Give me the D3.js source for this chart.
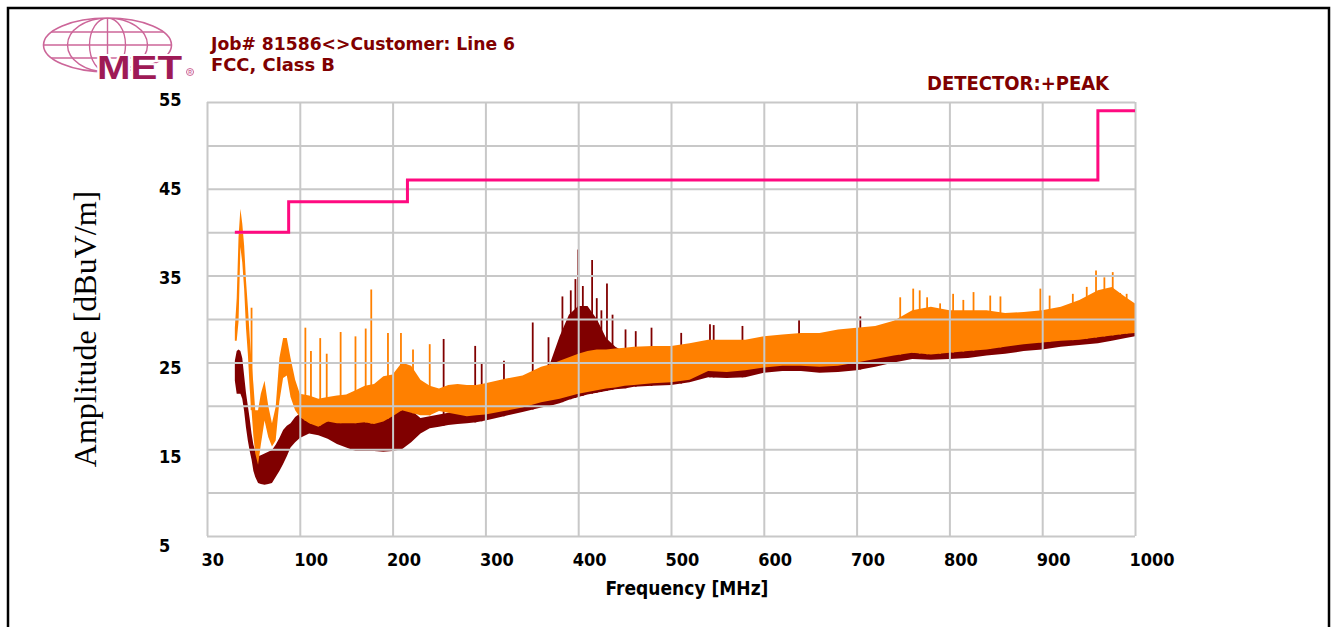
<!DOCTYPE html>
<html>
<head>
<meta charset="utf-8">
<script src="https://cdn.jsdelivr.net/npm/d3@7"></script>
<style>
  body { margin: 0; background: #fff; }
  .lab { font-family: 'DejaVu Sans Condensed', 'DejaVu Sans', sans-serif; font-stretch: condensed; font-weight: bold; }
</style>
</head>
<body>
<div id="chart"></div>
<script>
// frequency breakpoints [MHz] of the envelope
const freqs = [30, 32, 34, 36, 38, 40, 42, 44, 46, 48,
  50, 52, 55, 58, 62, 66, 70, 74, 78, 82,
  86, 90, 95, 100, 110, 120, 130, 140, 150, 160,
  170, 180, 190, 200, 210, 220, 230, 240, 250, 260,
  270, 280, 290, 300, 320, 340, 360, 370, 380, 390,
  400, 410, 420, 430, 440, 450, 460, 480, 500, 520,
  540, 560, 580, 600, 620, 640, 660, 680, 700, 720,
  740, 760, 780, 800, 820, 840, 860, 880, 900, 920,
  940, 960, 975, 990, 1000];

// orange trace (horizontal) top / bottom of the band [dBuV/m]
const hHi = [29, 32.4, 39.5, 42.7, 41, 38.5, 34.5, 31.5, 28, 25,
  22.5, 19.5, 19.5, 21.4, 22.9, 20, 18, 19.9, 25.5, 27.8,
  27.8, 25.5, 23, 21.4, 21.2, 20.8, 21, 21.2, 21.3, 21.8,
  22.3, 22.5, 23.4, 23.6, 25, 24.6, 23, 22.3, 22, 22.4,
  22.5, 22.4, 22.4, 22.6, 23.1, 23.5, 24.5, 24.8, 25.2, 25.6,
  26, 26.3, 26.5, 26.5, 26.6, 26.7, 26.8, 26.9, 26.9, 27.2,
  27.6, 27.6, 27.6, 28, 28.2, 28.4, 28.4, 28.8, 29, 29.2,
  29.8, 31, 31.4, 31, 31, 31, 30.7, 30.8, 31, 31.4,
  32.2, 33.3, 33.7, 32.5, 31.8];
const hLo = [27.5, 27.5, 29.7, 38.3, 36.5, 33.5, 29, 26, 22, 19.5,
  16.5, 14.5, 13.2, 15.5, 18.3, 16.4, 15.3, 16, 20.5, 23.2,
  23.5, 21, 19.5, 18.7, 18, 17.6, 18.2, 18, 18, 18,
  18.1, 17.9, 18.2, 18.8, 19.5, 19.2, 18.9, 18.9, 19.4, 19.2,
  19, 18.8, 18.9, 19, 19.4, 19.8, 20.4, 20.6, 20.8, 21.1,
  21.4, 21.6, 21.8, 22, 22.1, 22.3, 22.4, 22.6, 22.7, 23,
  24, 23.9, 24.1, 24.4, 24.6, 24.6, 24.5, 24.6, 25, 25.4,
  25.8, 26.1, 25.9, 26.1, 26.3, 26.5, 26.8, 27.1, 27.3, 27.5,
  27.6, 27.9, 28.1, 28.3, 28.4];

// dark red trace (vertical) top / bottom of the band
const vHi = [25.2, 26.3, 26.5, 26.3, 25.5, 23.5, 21.5, 20, 18.5, 16.8,
  15.5, 14.8, 14.2, 14.3, 14.5, 14.7, 14.9, 15.5, 16.3, 17.2,
  17.7, 18, 18.7, 19.1, 19.1, 19, 18.8, 18.6, 18.5, 18.6,
  18.8, 18.4, 18.9, 19.4, 20.5, 19.5, 18.6, 18.8, 19, 19.2,
  19.4, 19.6, 19.8, 20, 20.5, 21, 22, 25, 28, 30.5,
  31.5, 31.5, 30, 27.8, 26.8, 26.2, 25.6, 25.4, 25.5, 25.8,
  26.2, 26.2, 26.4, 26.5, 26.8, 27, 27, 27.2, 27.5, 27.6,
  28, 28.2, 28.3, 28.4, 28.6, 28.8, 29, 29.1, 29.3, 29.5,
  29.6, 29.8, 30, 30.2, 30.3];
const vLo = [22.9, 21.4, 21.4, 21.4, 20.8, 19.4, 17.5, 16, 14.8, 13.8,
  12.5, 11.8, 11.1, 11, 10.9, 11, 11.1, 11.8, 12.5, 13.3,
  14.2, 15.2, 15.8, 16.3, 16.8, 16.6, 16.2, 15.6, 15.2, 14.8,
  14.8, 14.8, 14.7, 14.8, 15, 15.8, 16.8, 17.4, 17.6, 17.8,
  17.9, 18, 18.1, 18.3, 18.8, 19.3, 19.8, 20, 20.3, 20.7,
  21, 21.3, 21.5, 21.7, 21.9, 22, 22.2, 22.3, 22.4, 22.7,
  23.3, 23.2, 23.3, 23.8, 24, 24, 23.8, 23.9, 24.1, 24.5,
  25, 25.4, 25.3, 25.4, 25.5, 25.8, 26, 26.3, 26.5, 26.8,
  27, 27.2, 27.5, 27.8, 28];

// single spikes [freq, peak]
const hSpikes = [[48, 31.3], [106, 29], [112, 26.3], [122, 27.8], [129, 26], [144, 28.5],
  [160, 28], [171, 28.9], [177, 33.4], [195, 28.4], [209, 28.4], [222, 26.5], [240, 27.1],
  [747, 32.5], [761, 33.5], [768, 33.3], [776, 32.5], [790, 31.8], [804, 32.9], [815, 32.2],
  [826, 33.1], [844, 32.7], [855, 32.6], [898, 33.5], [908, 32.7], [933, 32.9], [948, 33.7],
  [958, 35.6], [967, 34.8], [976, 35.4], [984, 33], [991, 32.9]];
const vSpikes = [[255, 27.7], [289, 26.9], [296, 25], [320, 25.2], [351, 29.6], [368, 27.9],
  [383, 32.6], [392, 33.3], [397, 34.6], [400, 38], [405, 33.8], [415, 36.8], [420, 32.4],
  [425, 31], [431, 34.1], [437, 30.5], [451, 28.8], [462, 28.6], [479, 29],
  [511, 28.4], [542, 29.4], [546, 29.3], [577, 29.2], [638, 29.9], [704, 30.3]];

// FCC class B limit steps
const limitFreq = [30, 88, 216, 960, 1000];
const limitLevel = [40, 43.5, 46, 54, 54];

const xTicks = [0, 100, 200, 300, 400, 500, 600, 700, 800, 900, 1000];
const xTickLabels = ["30", "100", "200", "300", "400", "500", "600", "700", "800", "900", "1000"];
const yGrid = [5, 10, 15, 20, 25, 30, 35, 40, 45, 50, 55];
const yTicks = [5, 15, 25, 35, 45, 55];

const W = 1333, H = 627;
const plotL = 207, plotR = 1135, plotT = 102, plotB = 536;

const svg = d3.select("#chart").append("svg")
  .attr("width", W).attr("height", H)
  .style("display", "block");

svg.append("rect").attr("width", W).attr("height", H).attr("fill", "#fff");
svg.append("rect")
  .attr("x", 8).attr("y", 8).attr("width", 1321).attr("height", 660)
  .attr("fill", "none").attr("stroke", "#000").attr("stroke-width", 2.5);

const x = d3.scaleLinear().domain([0, 1000]).range([plotL, plotR]);
const y = d3.scaleLinear().domain([5, 55]).range([plotB, plotT]);
// the tick labels sit on a slightly wider spacing than the grid
const yLab = d3.scaleLinear().domain([5, 55]).range([545, 99]);

// traces
const area = d3.area()
  .x(d => x(d.f))
  .y0(d => y(d.lo))
  .y1(d => y(d.hi));

const vRows = freqs.map((f, i) => ({f: f, lo: vLo[i], hi: vHi[i]}));
const hRows = freqs.map((f, i) => ({f: f, lo: hLo[i], hi: hHi[i]}));
const vBase = d3.scaleLinear().domain(freqs).range(vLo);
const hBase = d3.scaleLinear().domain(freqs).range(hLo);

svg.append("path").datum(vRows).attr("d", area).attr("fill", "#800000");
svg.append("g").selectAll("line").data(vSpikes).join("line")
  .attr("x1", d => x(d[0])).attr("x2", d => x(d[0]))
  .attr("y1", d => y(d[1])).attr("y2", d => y(vBase(d[0])))
  .attr("stroke", "#800000").attr("stroke-width", 1.8);

svg.append("path").datum(hRows).attr("d", area).attr("fill", "#ff8000");
svg.append("g").selectAll("line").data(hSpikes).join("line")
  .attr("x1", d => x(d[0])).attr("x2", d => x(d[0]))
  .attr("y1", d => y(d[1])).attr("y2", d => y(hBase(d[0])))
  .attr("stroke", "#ff8000").attr("stroke-width", 1.8);

// grid on top of the traces
const grid = svg.append("g");
grid.append("g")
  .attr("transform", `translate(0,${plotB})`)
  .call(d3.axisBottom(x).tickValues(xTicks).tickSize(-(plotB - plotT)).tickFormat(""))
  .call(g => g.select(".domain").remove());
grid.append("g")
  .attr("transform", `translate(${plotL},0)`)
  .call(d3.axisLeft(y).tickValues(yGrid).tickSize(-(plotR - plotL)).tickFormat(""))
  .call(g => g.select(".domain").remove());
grid.selectAll("line").attr("stroke", "#c8c8c8").attr("stroke-width", 2);

// limit line
const limitLine = d3.line().x(d => x(d[0])).y(d => y(d[1])).curve(d3.curveStepAfter);
svg.append("path")
  .datum(limitFreq.map((f, i) => [f, limitLevel[i]]))
  .attr("d", limitLine)
  .attr("fill", "none").attr("stroke", "#ff0a80").attr("stroke-width", 3);

// tick labels
const xAxis = svg.append("g")
  .attr("transform", `translate(0,${plotB})`)
  .call(d3.axisBottom(x).tickValues(xTicks).tickSize(0).tickFormat((d, i) => xTickLabels[i]));
xAxis.select(".domain").remove();
xAxis.selectAll("text")
  .attr("class", "lab")
  .attr("y", 30).attr("dy", 0).attr("dx", -6)
  .attr("text-anchor", "start")
  .attr("font-size", 18).attr("fill", "#000");

const yAxis = svg.append("g")
  .attr("transform", "translate(159,0)")
  .call(d3.axisLeft(yLab).tickValues(yTicks).tickSize(0));
yAxis.select(".domain").remove();
yAxis.selectAll("text")
  .attr("class", "lab")
  .attr("x", 0).attr("dy", "0.36em")
  .attr("text-anchor", "start")
  .attr("font-size", 18).attr("fill", "#000");

svg.append("text")
  .attr("class", "lab")
  .attr("x", 687).attr("y", 595)
  .attr("text-anchor", "middle")
  .attr("font-size", 19)
  .text("Frequency [MHz]");

svg.append("text")
  .attr("transform", "translate(96,329) rotate(-90)")
  .attr("text-anchor", "middle")
  .attr("font-family", "'Liberation Serif', 'Times New Roman', serif")
  .attr("font-size", 32)
  .text("Amplitude [dBuV/m]");

// header
svg.append("text").attr("class", "lab")
  .attr("x", 211).attr("y", 50).attr("font-size", 17).attr("fill", "#800000")
  .attr("textLength", 304).attr("lengthAdjust", "spacingAndGlyphs")
  .text("Job# 81586<>Customer: Line 6");
svg.append("text").attr("class", "lab")
  .attr("x", 211).attr("y", 70.5).attr("font-size", 17).attr("fill", "#800000")
  .attr("textLength", 124).attr("lengthAdjust", "spacingAndGlyphs")
  .text("FCC, Class B");
svg.append("text").attr("class", "lab")
  .attr("x", 927).attr("y", 90).attr("font-size", 20).attr("fill", "#800000")
  .text("DETECTOR:+PEAK");

// MET logo
const logo = svg.append("g");
const cx = 107.5, cy = 45, rx = 64, ry = 27;
svg.append("clipPath").attr("id", "globe")
  .append("ellipse").attr("cx", cx).attr("cy", cy).attr("rx", rx).attr("ry", ry);
const gl = logo.append("g").attr("clip-path", "url(#globe)")
  .attr("stroke", "#cc6699").attr("stroke-width", 1.4).attr("fill", "none");
[-13, 0, 13].forEach(dy => {
  gl.append("line").attr("x1", cx - rx).attr("x2", cx + rx)
    .attr("y1", cy + dy).attr("y2", cy + dy);
});
gl.append("line").attr("x1", cx).attr("x2", cx).attr("y1", cy - ry).attr("y2", cy + ry);
[18, 40].forEach(r => {
  gl.append("ellipse").attr("cx", cx).attr("cy", cy).attr("rx", r).attr("ry", ry);
});
logo.append("ellipse").attr("cx", cx).attr("cy", cy).attr("rx", rx).attr("ry", ry)
  .attr("fill", "none").attr("stroke", "#cc6699").attr("stroke-width", 1.6);
logo.append("text")
  .attr("x", 97).attr("y", 79)
  .attr("font-family", "'Liberation Sans', Arial, sans-serif")
  .attr("font-weight", "bold").attr("font-size", 33)
  .attr("textLength", 85).attr("lengthAdjust", "spacingAndGlyphs")
  .attr("fill", "#9e1a56").attr("stroke", "#fff").attr("stroke-width", 4)
  .attr("paint-order", "stroke")
  .text("MET");
logo.append("circle").attr("cx", 190).attr("cy", 72).attr("r", 3.5)
  .attr("fill", "none").attr("stroke", "#cc6699").attr("stroke-width", 1);
logo.append("text").attr("x", 190).attr("y", 74).attr("text-anchor", "middle")
  .attr("font-family", "'Liberation Sans', Arial, sans-serif")
  .attr("font-size", 5).attr("font-weight", "bold").attr("fill", "#cc6699")
  .text("R");
</script>
</body>
</html>
